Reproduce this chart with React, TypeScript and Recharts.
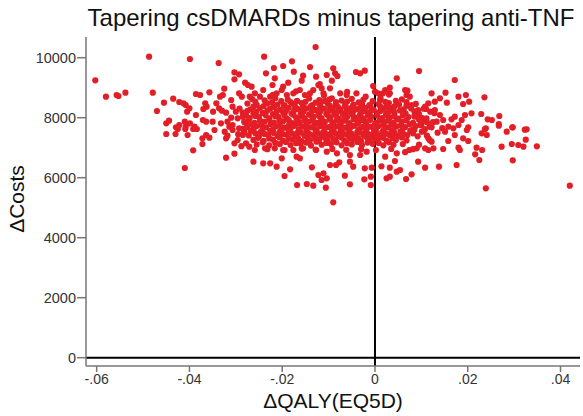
import { ScatterChart, Scatter, XAxis, YAxis, ReferenceLine } from 'recharts'

type Pt = [number, number] // [dQALY, dCosts]

const title = 'Tapering csDMARDs minus tapering anti-TNF'
const xLabel = 'ΔQALY(EQ5D)'
const yLabel = 'ΔCosts'

const xTicks = [-0.06, -0.04, -0.02, 0, 0.02, 0.04]
const yTicks = [0, 2000, 4000, 6000, 8000, 10000]

// far left of the cloud
const leftTail: Pt[] = [
  [-0.0603, 9247], [-0.058, 8700], [-0.0557, 8757], [-0.0553, 8723], [-0.0538, 8833],
  [-0.0487, 10033], [-0.0479, 8833], [-0.047, 8223], [-0.0455, 8500], [-0.045, 7813],
  [-0.0444, 7900], [-0.0435, 8633], [-0.0429, 7680], [-0.0422, 8523], [-0.0422, 7757],
  [-0.0413, 8480], [-0.041, 7867], [-0.041, 6323], [-0.0408, 8423], [-0.0408, 7700],
  [-0.0405, 8200], [-0.04, 8313], [-0.0399, 9957], [-0.0399, 7813], [-0.0389, 7700],
  [-0.0386, 8790], [-0.0386, 8090], [-0.0377, 8757], [-0.0371, 7923], [-0.037, 8290],
  [-0.0366, 8480], [-0.0364, 7867], [-0.0363, 8367], [-0.0357, 8847], [-0.035, 7867],
  [-0.0349, 8200], [-0.0342, 8480], [-0.0337, 9823], [-0.0336, 8313], [-0.0334, 8700],
  [-0.0332, 7813], [-0.033, 8233], [-0.0328, 8757], [-0.0325, 8967], [-0.0321, 8167],
  [-0.0318, 7867], [-0.031, 8590], [-0.0307, 8367], [-0.0307, 7757], [-0.0303, 9513],
  [-0.0303, 9280], [-0.03, 8200], [-0.045, 7457], [-0.043, 7457], [-0.0404, 7423],
  [-0.0425, 7623], [-0.0409, 7623], [-0.0392, 7623], [-0.0384, 7623], [-0.0372, 7313],
  [-0.0364, 7423], [-0.0372, 7123], [-0.0357, 7333], [-0.0346, 7590], [-0.0392, 6913],
  [-0.0324, 7533], [-0.0321, 7313], [-0.0321, 6667], [-0.0314, 7700], [-0.0307, 7590],
  [-0.0303, 7147], [-0.0303, 6800], [-0.0318, 7400], [-0.031, 8000],
]

// upper edge of the cloud
const upperEdge: Pt[] = [
  [-0.0296, 7980], [-0.0293, 9447], [-0.0293, 8813], [-0.0287, 8700], [-0.0285, 8033],
  [-0.028, 9167], [-0.0278, 7813], [-0.0274, 9090], [-0.0296, 7257], [-0.0285, 7423],
  [-0.0278, 7147], [-0.0271, 7033], [-0.0282, 7533], [-0.0293, 7647], [-0.0295, 7450],
  [-0.0292, 8300], [-0.0288, 7050],
  [-0.0128, 10357], [-0.0239, 10033], [-0.0198, 9723], [-0.0218, 9657], [-0.0179, 9880],
  [-0.014, 9690], [-0.0175, 9533], [-0.0235, 9480], [-0.0155, 9400], [-0.0158, 9233],
  [-0.0127, 9367], [-0.0104, 9423], [-0.009, 9647], [-0.0086, 9480], [-0.0081, 9390],
  [-0.0093, 9233], [-0.0119, 9123], [-0.0187, 9167], [-0.0198, 9033], [-0.0221, 9090],
  [-0.0216, 9313], [-0.0241, 8923], [-0.0266, 9033], [-0.0041, 9523], [-0.0032, 9480],
  [-0.0022, 9567], [-0.0004, 9057], [0.0, 8867], [0.0047, 9313], [0.0022, 8923],
  [0.0032, 9000], [0.0017, 8813], [0.0007, 8813], [0.0032, 8813], [0.0065, 8923],
  [0.0068, 8757], [0.0075, 8700], [0.0079, 8423], [0.0047, 8480], [0.004, 8257],
  [0.0025, 8367], [0.0011, 8590], [-0.004, 8813], [-0.0075, 8813], [-0.0061, 8757],
  [-0.0097, 8980], [-0.0115, 8980], [-0.0122, 9090], [-0.0093, 8647], [-0.0111, 8813],
  [-0.0133, 8923], [-0.014, 8813], [-0.0151, 8757], [-0.0162, 8923], [-0.0176, 8813],
  [-0.019, 8757], [-0.0201, 8923], [-0.0212, 8813], [-0.0226, 8700], [-0.0248, 8700],
  [-0.0259, 8813], [-0.027, 8700], [-0.022, 8760], [-0.017, 8880], [-0.011, 8740],
  [-0.006, 8860], [-0.002, 8700], [0.003, 8770], [0.007, 8900],
]

// right of zero
const rightTail: Pt[] = [
  [0.0095, 9557], [0.0172, 9257], [0.0236, 8680], [0.0122, 8813], [0.0152, 8833],
  [0.014, 8647], [0.0129, 8533], [0.018, 8700], [0.0196, 8757], [0.0203, 8533],
  [0.019, 8457], [0.0155, 8500], [0.0115, 8480], [0.0208, 8147], [0.0229, 8123],
  [0.0243, 7947], [0.0252, 7923], [0.0268, 8057], [0.0296, 7680], [0.0327, 7613],
  [0.0267, 7790], [0.0239, 7647], [0.0194, 8090], [0.0187, 7923], [0.0172, 8033],
  [0.0165, 7947], [0.0093, 8257], [0.0108, 8367], [0.0119, 8200], [0.0129, 8257],
  [0.014, 8090], [0.0147, 7923], [0.0133, 7867], [0.0111, 7980], [0.0101, 7867],
  [0.0086, 8033], [0.0158, 7700], [0.018, 7757], [0.0201, 7680], [0.0122, 7680],
  [0.042, 5733], [0.0239, 5647], [0.0297, 6580], [0.0349, 7047], [0.0325, 7267],
  [0.0323, 7600], [0.0309, 7090], [0.032, 7033], [0.0295, 7123], [0.0273, 7033],
  [0.0297, 7680], [0.0284, 7533], [0.0267, 7733], [0.0237, 7623], [0.0241, 7423],
  [0.023, 7480], [0.0219, 7000], [0.0231, 6923], [0.0216, 6780], [0.0225, 6590],
  [0.0176, 6423], [0.0183, 6923], [0.018, 7000], [0.0201, 7223], [0.019, 7313],
  [0.0198, 7590], [0.0158, 7223], [0.0147, 6957], [0.0138, 6367], [0.0108, 6333],
  [0.0093, 6533], [0.0115, 6923], [0.0126, 6980], [0.0108, 6980], [0.009, 6980],
  [0.0122, 7200], [0.0115, 7313], [0.0101, 7533], [0.0151, 7533], [0.0169, 7647],
  [0.0172, 7423], [0.0085, 7600], [0.0098, 7750], [0.0125, 7850], [0.0135, 7500],
  [0.0112, 7400], [0.0145, 7650], [0.0128, 8150], [0.0105, 8300], [0.0118, 7250],
  [0.0095, 7100], [0.0082, 6950], [0.0065, 6850],
]

// lower edge of the cloud
const lowerEdge: Pt[] = [
  [-0.009, 5180], [-0.0168, 5757], [-0.0147, 5790], [-0.0133, 5733], [-0.0106, 5667],
  [-0.0054, 5780], [-0.0009, 5757], [-0.0023, 5947], [-0.0195, 6057], [-0.0183, 6280],
  [-0.0122, 6090], [-0.0111, 6147], [-0.0104, 5980], [-0.0115, 5923], [-0.0136, 6347],
  [-0.0065, 6067], [-0.0097, 6423], [-0.0077, 6513], [-0.0084, 6423], [-0.0047, 6367],
  [-0.0054, 6533], [-0.0022, 6313], [-0.0007, 6333], [-0.0009, 6033], [0.0025, 5980],
  [0.0032, 6033], [0.0047, 6200], [0.0067, 5957], [0.0079, 6113], [0.0054, 6257],
  [0.0032, 6333], [0.0043, 6557], [0.0014, 6380], [0.0022, 6700], [0.0047, 6813],
  [0.0074, 6923], [-0.0262, 6533], [-0.0241, 6480], [-0.0226, 6480], [-0.0212, 6367],
  [-0.0201, 6647], [-0.0162, 6647], [-0.0169, 6700], [-0.0259, 6923], [-0.0237, 6980],
  [-0.0216, 6980], [-0.0198, 6923], [-0.0176, 6923], [-0.0155, 6980], [-0.0127, 6923],
  [-0.0104, 6867], [-0.0082, 6813], [-0.0054, 6757], [-0.0032, 6757], [-0.0018, 6867],
]

// dense middle of the cloud
const core: Pt[] = [
  [-0.0265, 8620], [-0.0238, 8580], [-0.0215, 8650], [-0.0188, 8600], [-0.0168, 8560],
  [-0.0142, 8640], [-0.012, 8590], [-0.0098, 8610], [-0.0072, 8570], [-0.005, 8630],
  [-0.0025, 8600], [0.0012, 8650], [0.0045, 8560], [0.0058, 8610],
  [-0.0275, 8470], [-0.0255, 8430], [-0.0232, 8480], [-0.021, 8440], [-0.0195, 8410],
  [-0.0176, 8460], [-0.0158, 8490], [-0.0135, 8420], [-0.0118, 8450], [-0.0102, 8470],
  [-0.0085, 8430], [-0.0064, 8480], [-0.0046, 8440], [-0.0028, 8460], [-0.0012, 8420],
  [0.0008, 8450], [0.003, 8490], [0.0052, 8430], [0.0088, 8460],
  [-0.0268, 8280], [-0.0248, 8320], [-0.0226, 8300], [-0.0205, 8270], [-0.0186, 8330],
  [-0.0166, 8290], [-0.0148, 8310], [-0.0128, 8260], [-0.011, 8300], [-0.0092, 8320],
  [-0.0075, 8280], [-0.0056, 8310], [-0.0038, 8290], [-0.002, 8330], [-0.0003, 8270],
  [0.0018, 8300], [0.0035, 8320], [0.0062, 8280], [0.0078, 8310], [0.011, 8290],
  [-0.0285, 8170], [-0.0262, 8130], [-0.0242, 8160], [-0.022, 8120], [-0.0198, 8180],
  [-0.018, 8140], [-0.016, 8150], [-0.0142, 8110], [-0.0122, 8170], [-0.0105, 8130],
  [-0.0088, 8160], [-0.007, 8140], [-0.0052, 8180], [-0.0032, 8120], [-0.0015, 8150],
  [0.0005, 8170], [0.0024, 8130], [0.0042, 8160], [0.0066, 8140], [0.0095, 8120],
  [-0.027, 7990], [-0.025, 8020], [-0.0228, 7980], [-0.0208, 8030], [-0.019, 7970],
  [-0.017, 8010], [-0.0152, 7990], [-0.0132, 8040], [-0.0115, 7980], [-0.0096, 8010],
  [-0.0078, 7970], [-0.006, 8020], [-0.0042, 8000], [-0.0025, 7980], [-0.0008, 8030],
  [0.0015, 7990], [0.0032, 8010], [0.005, 7970], [0.0072, 8020], [0.0102, 7990],
  [-0.0282, 7860], [-0.026, 7830], [-0.0238, 7870], [-0.0218, 7840], [-0.0198, 7880],
  [-0.0178, 7820], [-0.0162, 7850], [-0.0142, 7870], [-0.0125, 7830], [-0.0108, 7860],
  [-0.009, 7840], [-0.0072, 7880], [-0.0055, 7820], [-0.0036, 7850], [-0.0018, 7870],
  [0.0002, 7830], [0.002, 7860], [0.004, 7840], [0.0058, 7870], [0.0082, 7830],
  [0.0112, 7850],
  [-0.0275, 7690], [-0.0255, 7720], [-0.0235, 7680], [-0.0214, 7710], [-0.0194, 7670],
  [-0.0174, 7730], [-0.0156, 7700], [-0.0137, 7680], [-0.0118, 7720], [-0.01, 7690],
  [-0.0082, 7710], [-0.0064, 7670], [-0.0046, 7730], [-0.0028, 7690], [-0.001, 7700],
  [0.0008, 7720], [0.0028, 7680], [0.0046, 7710], [0.0065, 7690], [0.0088, 7720],
  [0.0118, 7700],
  [-0.0268, 7560], [-0.0246, 7530], [-0.0226, 7570], [-0.0205, 7540], [-0.0186, 7580],
  [-0.0166, 7520], [-0.0148, 7550], [-0.0128, 7570], [-0.0111, 7530], [-0.0093, 7560],
  [-0.0074, 7540], [-0.0056, 7580], [-0.0038, 7520], [-0.002, 7550], [-0.0002, 7570],
  [0.0016, 7530], [0.0036, 7560], [0.0055, 7540], [0.0076, 7570], [0.0105, 7550],
  [-0.0272, 7410], [-0.025, 7380], [-0.023, 7420], [-0.021, 7390], [-0.019, 7430],
  [-0.017, 7370], [-0.0152, 7400], [-0.0133, 7420], [-0.0115, 7380], [-0.0097, 7410],
  [-0.0078, 7390], [-0.006, 7430], [-0.0042, 7370], [-0.0024, 7400], [-0.0006, 7420],
  [0.0012, 7380], [0.0032, 7410], [0.005, 7390], [0.007, 7420], [0.0092, 7380],
  [-0.0262, 7260], [-0.024, 7230], [-0.022, 7270], [-0.0198, 7240], [-0.0178, 7280],
  [-0.0158, 7220], [-0.014, 7250], [-0.012, 7270], [-0.0102, 7230], [-0.0085, 7260],
  [-0.0066, 7240], [-0.0048, 7280], [-0.003, 7220], [-0.0012, 7250], [0.0006, 7270],
  [0.0025, 7230], [0.0045, 7260], [0.0068, 7240],
  [-0.0255, 7110], [-0.0228, 7080], [-0.0205, 7120], [-0.0182, 7090], [-0.016, 7130],
  [-0.0138, 7070], [-0.0115, 7100], [-0.0095, 7120], [-0.0072, 7080], [-0.005, 7110],
  [-0.0028, 7090], [-0.0005, 7130], [0.0018, 7080], [0.004, 7100], [0.006, 7120],
  [-0.0232, 6950], [-0.0195, 6920], [-0.0158, 6970], [-0.0128, 6940], [-0.0092, 6960],
  [-0.0062, 6930], [-0.003, 6950], [0.0002, 6920], [0.0035, 6960],
]

// extra fill between the core rows, where the cloud is almost solid
const coreFill: Pt[] = [
  [-0.0258, 8540], [-0.0222, 8510], [-0.0202, 8550], [-0.0182, 8520], [-0.015, 8530],
  [-0.0128, 8500], [-0.0108, 8560], [-0.0084, 8520], [-0.006, 8540], [-0.0035, 8510],
  [-0.0005, 8550], [0.0022, 8530], [0.0068, 8520],
  [-0.0262, 8370], [-0.024, 8390], [-0.0218, 8360], [-0.0196, 8400], [-0.0172, 8380],
  [-0.0155, 8350], [-0.0138, 8390], [-0.0118, 8370], [-0.0098, 8400], [-0.008, 8360],
  [-0.0065, 8380], [-0.0047, 8410], [-0.003, 8370], [-0.001, 8390], [0.0012, 8360],
  [0.0042, 8380], [0.0068, 8400],
  [-0.0275, 8230], [-0.0256, 8200], [-0.0232, 8240], [-0.0212, 8210], [-0.0192, 8220],
  [-0.0174, 8250], [-0.0154, 8200], [-0.0136, 8230], [-0.0118, 8210], [-0.0098, 8240],
  [-0.008, 8220], [-0.0062, 8200], [-0.0045, 8250], [-0.0026, 8210], [-0.0008, 8230],
  [0.0012, 8220], [0.003, 8200], [0.0054, 8240], [0.0085, 8210],
  [-0.0278, 8080], [-0.0258, 8060], [-0.0236, 8090], [-0.0215, 8050], [-0.0195, 8070],
  [-0.0176, 8100], [-0.0158, 8060], [-0.0138, 8080], [-0.012, 8050], [-0.0102, 8090],
  [-0.0084, 8070], [-0.0066, 8060], [-0.0048, 8100], [-0.0032, 8050], [-0.0015, 8080],
  [0.0005, 8070], [0.0024, 8090], [0.0042, 8050], [0.006, 8080], [0.0085, 8060],
  [-0.0272, 7930], [-0.0248, 7900], [-0.0228, 7940], [-0.0206, 7910], [-0.0186, 7920],
  [-0.0168, 7950], [-0.015, 7900], [-0.0134, 7930], [-0.0116, 7910], [-0.0098, 7940],
  [-0.0082, 7920], [-0.0064, 7900], [-0.0046, 7950], [-0.0028, 7910], [-0.001, 7930],
  [0.001, 7920], [0.0028, 7900], [0.0048, 7940], [0.0068, 7910], [0.0095, 7930],
  [-0.0265, 7780], [-0.0245, 7760], [-0.0225, 7790], [-0.0205, 7750], [-0.0185, 7770],
  [-0.0166, 7800], [-0.0148, 7760], [-0.013, 7780], [-0.0112, 7750], [-0.0092, 7790],
  [-0.0074, 7770], [-0.0056, 7760], [-0.0038, 7800], [-0.002, 7750], [0.0, 7780],
  [0.0018, 7770], [0.0036, 7790], [0.0056, 7750], [0.0075, 7780], [0.01, 7760],
  [-0.0285, 7630], [-0.0262, 7610], [-0.0242, 7640], [-0.022, 7600], [-0.0202, 7620],
  [-0.0182, 7650], [-0.0164, 7610], [-0.0146, 7630], [-0.0126, 7600], [-0.0108, 7640],
  [-0.009, 7620], [-0.0072, 7610], [-0.0054, 7650], [-0.0036, 7600], [-0.0018, 7630],
  [0.0002, 7620], [0.002, 7640], [0.004, 7600], [0.006, 7630], [0.0082, 7610],
  [0.0108, 7620],
  [-0.0258, 7480], [-0.0238, 7460], [-0.0218, 7490], [-0.0198, 7450], [-0.0178, 7470],
  [-0.016, 7500], [-0.0142, 7460], [-0.0122, 7480], [-0.0104, 7450], [-0.0086, 7490],
  [-0.0068, 7470], [-0.005, 7460], [-0.0032, 7500], [-0.0014, 7450], [0.0004, 7480],
  [0.0024, 7470], [0.0042, 7490], [0.0062, 7450], [0.0082, 7480],
  [-0.0252, 7330], [-0.0228, 7310], [-0.0206, 7340], [-0.0186, 7300], [-0.0166, 7320],
  [-0.0146, 7350], [-0.0128, 7310], [-0.0108, 7330], [-0.009, 7300], [-0.0072, 7340],
  [-0.0054, 7320], [-0.0036, 7310], [-0.0018, 7350], [0.0, 7300], [0.0018, 7330],
  [0.0038, 7320], [0.0058, 7340],
  [-0.0242, 7180], [-0.0215, 7160], [-0.0192, 7190], [-0.017, 7150], [-0.0148, 7170],
  [-0.0126, 7200], [-0.0105, 7160], [-0.0083, 7180], [-0.006, 7150], [-0.0038, 7190],
  [-0.0016, 7170], [0.0008, 7160], [0.003, 7180],
]

const data = [...leftTail, ...upperEdge, ...core, ...coreFill, ...lowerEdge, ...rightTail].map(([q, c]) => ({ q, c }))

const font = '"Liberation Sans", Arial, Helvetica, sans-serif'
const axisGrey = '#777'
const dotRed = '#e41e26'

const fmtX = (v: number) => (v === 0 ? '0' : v.toFixed(2).replace('0.', '.'))

const Dot = (props: any) => <circle cx={props.cx} cy={props.cy} r={3.1} fill={dotRed} />

export default function App() {
  return (
    <div style={{ position: 'absolute', left: 0, top: 0, width: 583, height: 416, background: '#fff', fontFamily: font }}>
      <div style={{ position: 'absolute', left: 84, width: 494, top: 4, textAlign: 'center', fontSize: 24, color: '#111', whiteSpace: 'nowrap' }}>
        {title}
      </div>
      <div
        style={{
          position: 'absolute', left: 17, top: 199, fontSize: 21, color: '#111', whiteSpace: 'nowrap',
          transform: 'translate(-50%, -50%) rotate(-90deg)',
        }}
      >
        {yLabel}
      </div>
      <div style={{ position: 'absolute', left: 86, width: 494, top: 389, textAlign: 'center', fontSize: 21, color: '#111' }}>
        {xLabel}
      </div>
      <ScatterChart width={583} height={416} margin={{ top: 37, right: 3, bottom: 20, left: 30 }}>
        <XAxis
          type="number"
          dataKey="q"
          domain={[-0.0623, 0.0442]}
          ticks={xTicks}
          tickFormatter={fmtX}
          allowDataOverflow
          height={30}
          stroke={axisGrey}
          strokeWidth={1.5}
          tickSize={6}
          tickMargin={2}
          tick={{ fill: '#333', fontSize: 14, fontFamily: font }}
        />
        <YAxis
          type="number"
          dataKey="c"
          domain={[-277, 10690]}
          ticks={yTicks}
          allowDataOverflow
          width={56}
          stroke={axisGrey}
          strokeWidth={1.5}
          tickSize={9}
          tickMargin={1}
          tick={{ fill: '#333', fontSize: 14.5, fontFamily: font }}
        />
        <Scatter data={data} shape={Dot} isAnimationActive={false} />
        <ReferenceLine y={0} stroke="#000" strokeWidth={2} />
        <ReferenceLine x={0} stroke="#000" strokeWidth={2} />
      </ScatterChart>
    </div>
  )
}
